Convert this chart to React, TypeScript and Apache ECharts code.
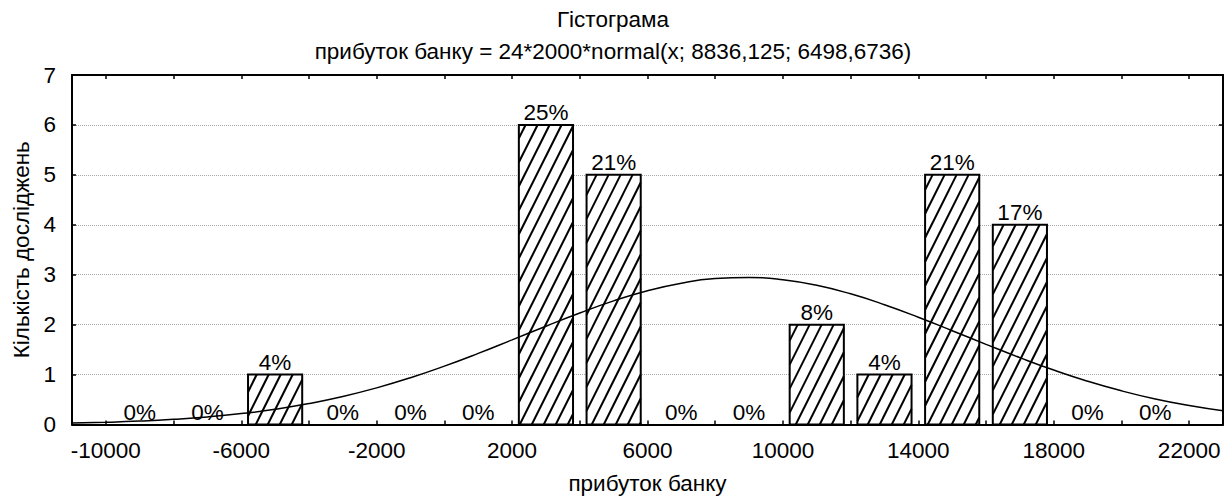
import React, { useEffect, useRef } from "react";
import * as echarts from "echarts";

// Histogram bins (centre of each 2000-wide class) and observed counts
const binCenters = [-9000, -7000, -5000, -3000, -1000, 1000, 3000, 5000, 7000, 9000, 11000, 13000, 15000, 17000, 19000, 21000];
const counts = [0, 0, 1, 0, 0, 0, 6, 5, 0, 0, 2, 1, 5, 4, 0, 0];
const binWidth = 2000;

// Fitted normal curve: 24*2000*normal(x; 8836,125; 6498,6736)
const curveX = [-11000, -10000, -9000, -8000, -7000, -6000, -5000, -4000, -3000, -2000, -1000, 0, 1000, 2000, 3000, 4000, 5000, 6000, 7000, 8000, 9000, 10000, 11000, 12000, 13000, 14000, 15000, 16000, 17000, 18000, 19000, 20000, 21000, 22000, 23000];
const curveY = [0.028, 0.044, 0.068, 0.103, 0.151, 0.218, 0.305, 0.419, 0.561, 0.734, 0.937, 1.169, 1.424, 1.695, 1.969, 2.234, 2.476, 2.679, 2.831, 2.922, 2.946, 2.900, 2.788, 2.617, 2.400, 2.149, 1.879, 1.605, 1.339, 1.090, 0.867, 0.674, 0.511, 0.379, 0.274];

const xTicks = [-10000, -8000, -6000, -4000, -2000, 0, 2000, 4000, 6000, 8000, 10000, 12000, 14000, 16000, 18000, 20000, 22000];
const xLabels = [-10000, -6000, -2000, 2000, 6000, 10000, 14000, 18000, 22000];

const titleText = "Гістограма";
const subtitleText = "прибуток банку = 24*2000*normal(x; 8836,125; 6498,6736)";
const xName = "прибуток банку";
const yName = "Кількість досліджень";

const FONT = '"Liberation Sans", Arial, sans-serif';
const FS = 22.5;

export default function App() {
  const ref = useRef<HTMLDivElement>(null);

  useEffect(() => {
    if (!ref.current) return;
    const chart = echarts.init(ref.current, null, { renderer: "svg" });
    const total = counts.reduce((a, b) => a + b, 0);
    const barData = binCenters.map((c, i) => [c, counts[i]]);

    const renderBar = (params: any, api: any) => {
      const c = api.value(0);
      const n = api.value(1);
      const pct = Math.round((n / total) * 100) + "%";
      const gap = binWidth * 0.1;
      const pL = api.coord([c - binWidth / 2 + gap, n]);
      const pR = api.coord([c + binWidth / 2 - gap, 0]);
      const xl = pL[0], yt = pL[1], xr = pR[0], yb = pR[1];
      const children: any[] = [];
      if (n > 0) {
        children.push({
          type: "rect",
          shape: { x: xl, y: yt, width: xr - xl, height: yb - yt },
          style: { fill: "#fff", stroke: null },
        });
        // diagonal hatching: lines 2x + y = const
        const step = 24;
        const cMin = 2 * xl + yt;
        const cMax = 2 * xr + yb;
        for (let k = Math.ceil(cMin / step); k * step <= cMax; k++) {
          const cc = k * step;
          const y1 = Math.max(yt, cc - 2 * xr);
          const y2 = Math.min(yb, cc - 2 * xl);
          if (y2 - y1 < 0.5) continue;
          children.push({
            type: "line",
            shape: { x1: (cc - y1) / 2, y1, x2: (cc - y2) / 2, y2 },
            style: { stroke: "#000", lineWidth: 2 },
          });
        }
        children.push({
          type: "rect",
          shape: { x: xl, y: yt, width: xr - xl, height: yb - yt },
          style: { fill: null, stroke: "#000", lineWidth: 2 },
        });
      }
      children.push({
        type: "text",
        x: (xl + xr) / 2,
        y: yt - 1,
        style: {
          text: pct,
          textAlign: "center",
          textVerticalAlign: "bottom",
          fill: "#000",
          font: `${FS}px ${FONT}`,
        },
      });
      return { type: "group", children };
    };

    const plain = (v: number) => String(v);

    chart.setOption({
      animation: false,
      textStyle: { fontFamily: FONT },
      title: [
        { text: titleText, left: "center", top: 3, textStyle: { fontSize: FS, fontWeight: "normal", color: "#000" } },
        { text: subtitleText, left: "center", top: 35, textStyle: { fontSize: FS, fontWeight: "normal", color: "#000" } },
      ],
      grid: { left: 72, right: 3, top: 75, bottom: 74.5, outerBoundsMode: "none", containLabel: false },
      xAxis: [
        {
          type: "value",
          min: -11000,
          max: 23000,
          position: "bottom",
          name: xName,
          nameLocation: "middle",
          nameGap: 47,
          nameTextStyle: { fontSize: FS, color: "#000" },
          axisLine: { show: true, onZero: false, lineStyle: { color: "#000", width: 2 } },
          axisTick: { show: true, inside: true, length: 4, customValues: xTicks, lineStyle: { color: "#000", width: 1.5 } },
          axisLabel: { show: true, customValues: xLabels, formatter: plain, fontSize: FS, color: "#000", margin: 14 },
          splitLine: { show: false },
        },
        {
          type: "value",
          min: -11000,
          max: 23000,
          position: "top",
          axisLine: { show: true, onZero: false, lineStyle: { color: "#000", width: 2 } },
          axisTick: { show: true, inside: true, length: 4, customValues: xTicks, lineStyle: { color: "#000", width: 1.5 } },
          axisLabel: { show: false },
          splitLine: { show: false },
        },
      ],
      yAxis: [
        {
          type: "value",
          min: 0,
          max: 7,
          interval: 1,
          position: "left",
          name: yName,
          nameLocation: "middle",
          nameGap: 36,
          nameRotate: 90,
          nameTextStyle: { fontSize: FS, color: "#000" },
          axisLine: { show: true, onZero: false, lineStyle: { color: "#000", width: 2 } },
          axisTick: { show: true, inside: true, length: 4, lineStyle: { color: "#000", width: 1.5 } },
          axisLabel: { fontSize: FS, color: "#000", margin: 16 },
          splitLine: { show: true, lineStyle: { color: "#aaa", type: "dotted", width: 1 } },
        },
        {
          type: "value",
          min: 0,
          max: 7,
          interval: 1,
          position: "right",
          axisLine: { show: true, onZero: false, lineStyle: { color: "#000", width: 2 } },
          axisTick: { show: true, inside: true, length: 4, lineStyle: { color: "#000", width: 1.5 } },
          axisLabel: { show: false },
          splitLine: { show: false },
        },
      ],
      series: [
        {
          type: "custom",
          xAxisIndex: 0,
          yAxisIndex: 0,
          renderItem: renderBar,
          data: barData,
          encode: { x: 0, y: 1 },
          z: 2,
        },
        {
          type: "line",
          xAxisIndex: 0,
          yAxisIndex: 0,
          data: curveX.map((x, i) => [x, curveY[i]]),
          smooth: true,
          showSymbol: false,
          symbol: "none",
          lineStyle: { color: "#000", width: 1.5 },
          z: 5,
        },
      ],
    });
    return () => chart.dispose();
  }, []);

  return (
    <div
      ref={ref}
      style={{ position: "absolute", left: 0, top: 0, width: 1226, height: 499, background: "#fff" }}
    />
  );
}
